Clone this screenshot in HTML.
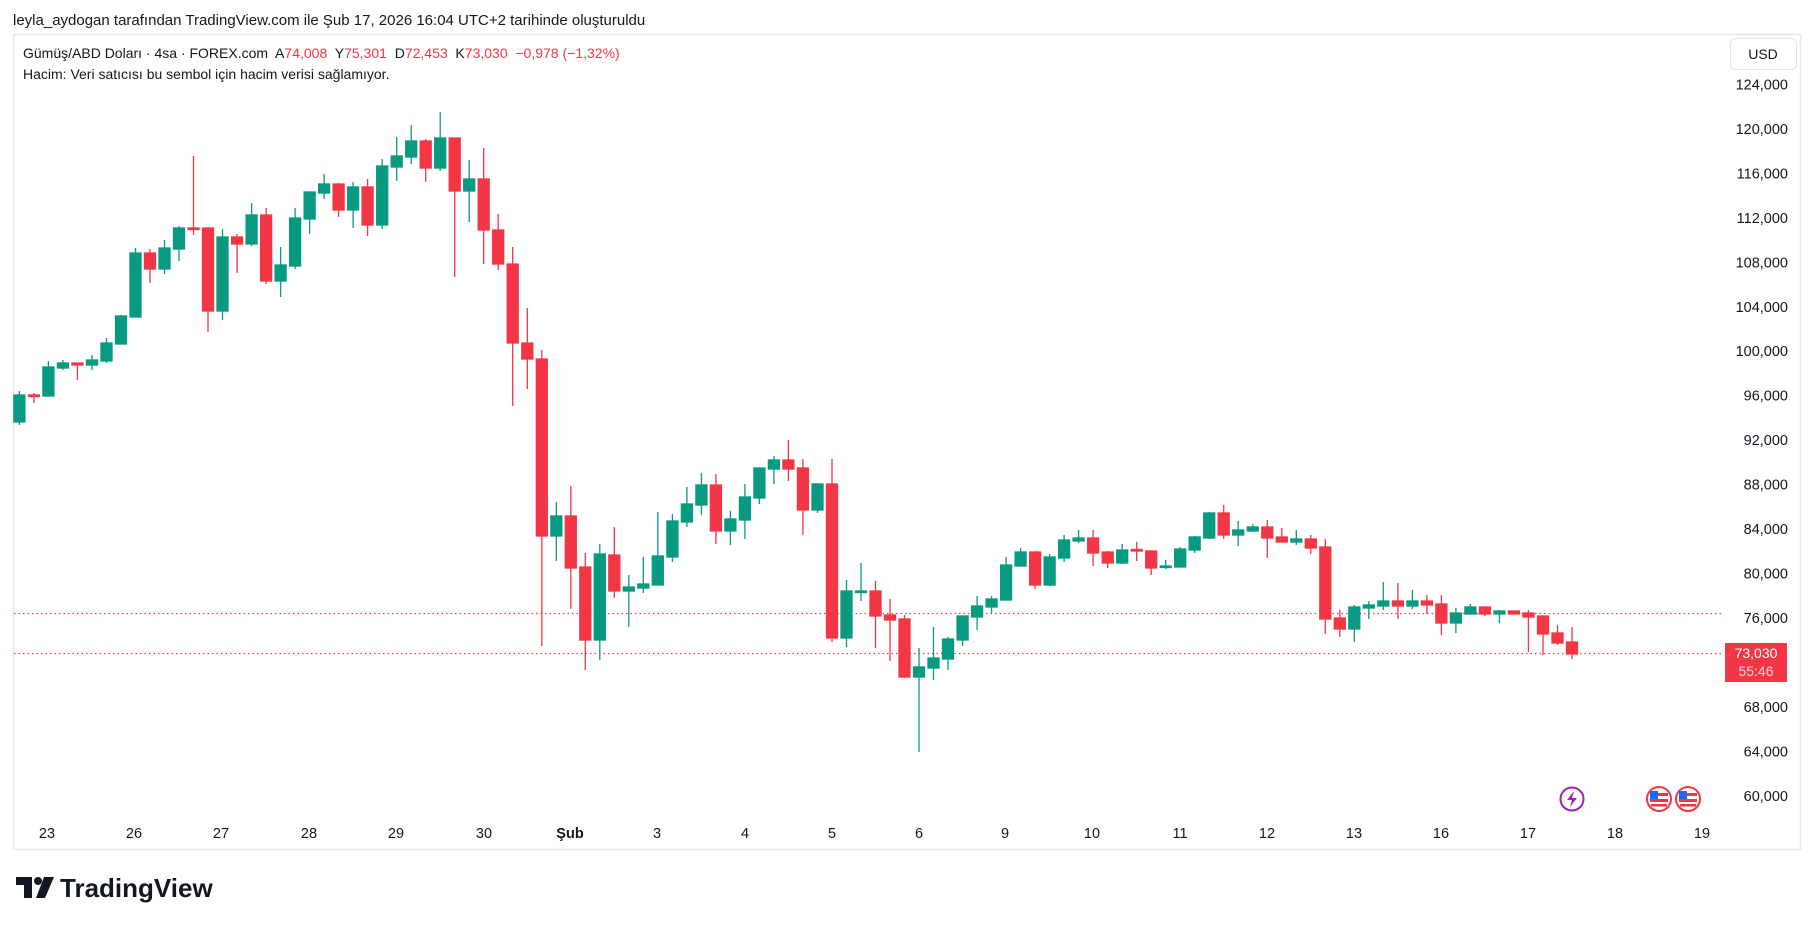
<!DOCTYPE html>
<html><head><meta charset="utf-8"><style>
html,body{margin:0;padding:0;background:#fff;}
svg{display:block;font-family:"Liberation Sans",sans-serif;}
.pre{white-space:pre;}
</style></head><body>
<svg width="1814" height="926" viewBox="0 0 1814 926" xmlns="http://www.w3.org/2000/svg">
<rect width="1814" height="926" fill="#fff"/>
<text x="13" y="25" font-size="15" fill="#131722">leyla_aydogan tarafından TradingView.com ile Şub 17, 2026 16:04 UTC+2 tarihinde oluşturuldu</text>
<rect x="13.5" y="34.5" width="1787" height="815" fill="none" stroke="#e6e8ee" stroke-width="1.5"/>
<text class="pre" x="23" y="58" font-size="14" fill="#131722">Gümüş/ABD Doları · 4sa · FOREX.com  A<tspan fill="#f23645">74,008</tspan>  Y<tspan fill="#f23645">75,301</tspan>  D<tspan fill="#f23645">72,453</tspan>  K<tspan fill="#f23645">73,030  −0,978 (−1,32%)</tspan></text>
<text x="23" y="79" font-size="14" fill="#131722">Hacim: Veri satıcısı bu sembol için hacim verisi sağlamıyor.</text>
<rect x="1730.5" y="38.5" width="66" height="31" rx="5" fill="#fff" stroke="#e0e3eb"/>
<text x="1763" y="59" font-size="14" fill="#131722" text-anchor="middle">USD</text>
<g font-size="14.5" fill="#131722" text-anchor="end">
<text x="1788" y="89.5">124,000</text><text x="1788" y="134">120,000</text><text x="1788" y="178.5">116,000</text><text x="1788" y="223">112,000</text><text x="1788" y="267.5">108,000</text><text x="1788" y="312">104,000</text><text x="1788" y="356">100,000</text><text x="1788" y="400.5">96,000</text><text x="1788" y="445">92,000</text><text x="1788" y="489.5">88,000</text><text x="1788" y="534">84,000</text><text x="1788" y="578.5">80,000</text><text x="1788" y="623">76,000</text><text x="1788" y="712">68,000</text><text x="1788" y="756.5">64,000</text><text x="1788" y="801">60,000</text>
</g>
<g font-size="14.5" fill="#131722" text-anchor="middle">
<text x="47" y="838">23</text><text x="134" y="838">26</text><text x="221" y="838">27</text><text x="309" y="838">28</text><text x="396" y="838">29</text><text x="484" y="838">30</text><text x="570" y="838" font-weight="bold">Şub</text><text x="657" y="838">3</text><text x="745" y="838">4</text><text x="832" y="838">5</text><text x="919" y="838">6</text><text x="1005" y="838">9</text><text x="1092" y="838">10</text><text x="1180" y="838">11</text><text x="1267" y="838">12</text><text x="1354" y="838">13</text><text x="1441" y="838">16</text><text x="1528" y="838">17</text><text x="1615" y="838">18</text><text x="1702" y="838">19</text>
</g>
<line x1="14" y1="613.5" x2="1724" y2="613.5" stroke="#f23645" stroke-width="1.2" stroke-dasharray="1.5,3"/>
<line x1="14" y1="653.5" x2="1724" y2="653.5" stroke="#f23645" stroke-width="1.2" stroke-dasharray="1.5,3"/>
<rect x="1725" y="643" width="62" height="39" fill="#f23645"/>
<text x="1756" y="658" font-size="14" fill="#fff" text-anchor="middle">73,030</text>
<text x="1756" y="676" font-size="14" fill="#ffd6da" text-anchor="middle">55:46</text>

<g stroke="#089981" stroke-width="1.3" fill="#089981">
<line x1="19.4" y1="391" x2="19.4" y2="425"/><rect x="13.9" y="395" width="11" height="27"/>
<line x1="48.4" y1="361" x2="48.4" y2="396"/><rect x="42.9" y="367" width="11" height="29"/>
<line x1="62.9" y1="360" x2="62.9" y2="370"/><rect x="57.4" y="363" width="11" height="5"/>
<line x1="92" y1="355" x2="92" y2="370"/><rect x="86.5" y="360" width="11" height="5"/>
<line x1="106.5" y1="338" x2="106.5" y2="363"/><rect x="101" y="343" width="11" height="18"/>
<line x1="121" y1="315" x2="121" y2="344"/><rect x="115.5" y="316" width="11" height="28"/>
<line x1="135.5" y1="248" x2="135.5" y2="317"/><rect x="130" y="253" width="11" height="64"/>
<line x1="164.5" y1="240" x2="164.5" y2="274"/><rect x="159" y="248" width="11" height="21"/>
<line x1="179" y1="226" x2="179" y2="261"/><rect x="173.5" y="228" width="11" height="21"/>
<line x1="222.5" y1="229" x2="222.5" y2="320"/><rect x="217" y="237" width="11" height="74"/>
<line x1="251.6" y1="203" x2="251.6" y2="246"/><rect x="246.1" y="215" width="11" height="29"/>
<line x1="280.6" y1="247" x2="280.6" y2="297"/><rect x="275.1" y="265" width="11" height="16"/>
<line x1="295.1" y1="208" x2="295.1" y2="269"/><rect x="289.6" y="218" width="11" height="48"/>
<line x1="309.6" y1="192" x2="309.6" y2="234"/><rect x="304.1" y="192" width="11" height="27"/>
<line x1="324.1" y1="174" x2="324.1" y2="199"/><rect x="318.6" y="184" width="11" height="9"/>
<line x1="353.1" y1="182" x2="353.1" y2="228"/><rect x="347.6" y="187" width="11" height="23"/>
<line x1="382.2" y1="159" x2="382.2" y2="229"/><rect x="376.7" y="166" width="11" height="59"/>
<line x1="396.7" y1="137" x2="396.7" y2="181"/><rect x="391.2" y="156" width="11" height="11"/>
<line x1="411.2" y1="125" x2="411.2" y2="164"/><rect x="405.7" y="141" width="11" height="16"/>
<line x1="440.2" y1="112" x2="440.2" y2="171"/><rect x="434.7" y="138" width="11" height="30"/>
<line x1="469.2" y1="160" x2="469.2" y2="222"/><rect x="463.7" y="179" width="11" height="12"/>
<line x1="556.3" y1="502" x2="556.3" y2="561"/><rect x="550.8" y="516" width="11" height="20"/>
<line x1="599.8" y1="544" x2="599.8" y2="660"/><rect x="594.3" y="554" width="11" height="86"/>
<line x1="628.8" y1="575" x2="628.8" y2="627"/><rect x="623.3" y="587" width="11" height="4"/>
<line x1="643.3" y1="557" x2="643.3" y2="593"/><rect x="637.8" y="584" width="11" height="4"/>
<line x1="657.8" y1="512" x2="657.8" y2="585"/><rect x="652.3" y="556" width="11" height="29"/>
<line x1="672.4" y1="514" x2="672.4" y2="562"/><rect x="666.9" y="521" width="11" height="36"/>
<line x1="686.9" y1="487" x2="686.9" y2="527"/><rect x="681.4" y="504" width="11" height="18"/>
<line x1="701.4" y1="473" x2="701.4" y2="515"/><rect x="695.9" y="485" width="11" height="20"/>
<line x1="730.4" y1="511" x2="730.4" y2="545"/><rect x="724.9" y="519" width="11" height="12"/>
<line x1="744.9" y1="484" x2="744.9" y2="539"/><rect x="739.4" y="497" width="11" height="23"/>
<line x1="759.4" y1="468" x2="759.4" y2="504"/><rect x="753.9" y="468" width="11" height="30"/>
<line x1="773.9" y1="456" x2="773.9" y2="484"/><rect x="768.4" y="460" width="11" height="9"/>
<line x1="817.5" y1="483" x2="817.5" y2="513"/><rect x="812" y="484" width="11" height="26"/>
<line x1="846.5" y1="580" x2="846.5" y2="647"/><rect x="841" y="591" width="11" height="47"/>
<line x1="861" y1="563" x2="861" y2="601"/><rect x="855.5" y="591" width="11" height="1.5"/>
<line x1="919" y1="648" x2="919" y2="752"/><rect x="913.5" y="667" width="11" height="10"/>
<line x1="933.5" y1="627" x2="933.5" y2="680"/><rect x="928" y="658" width="11" height="10"/>
<line x1="948" y1="637" x2="948" y2="670"/><rect x="942.5" y="639" width="11" height="20"/>
<line x1="962.6" y1="616" x2="962.6" y2="646"/><rect x="957.1" y="616" width="11" height="24"/>
<line x1="977.1" y1="596" x2="977.1" y2="630"/><rect x="971.6" y="606" width="11" height="11"/>
<line x1="991.6" y1="596" x2="991.6" y2="613"/><rect x="986.1" y="599" width="11" height="8"/>
<line x1="1006.1" y1="557" x2="1006.1" y2="600"/><rect x="1000.6" y="565" width="11" height="35"/>
<line x1="1020.6" y1="548" x2="1020.6" y2="566"/><rect x="1015.1" y="552" width="11" height="14"/>
<line x1="1049.6" y1="554" x2="1049.6" y2="586"/><rect x="1044.1" y="557" width="11" height="28"/>
<line x1="1064.1" y1="535" x2="1064.1" y2="562"/><rect x="1058.6" y="540" width="11" height="18"/>
<line x1="1078.6" y1="530" x2="1078.6" y2="543"/><rect x="1073.1" y="538" width="11" height="3"/>
<line x1="1122.2" y1="544" x2="1122.2" y2="564"/><rect x="1116.7" y="550" width="11" height="13"/>
<line x1="1165.7" y1="560" x2="1165.7" y2="569"/><rect x="1160.2" y="566" width="11" height="1.5"/>
<line x1="1180.2" y1="547" x2="1180.2" y2="567"/><rect x="1174.7" y="549" width="11" height="18"/>
<line x1="1194.7" y1="536" x2="1194.7" y2="553"/><rect x="1189.2" y="537" width="11" height="13"/>
<line x1="1209.2" y1="512" x2="1209.2" y2="539"/><rect x="1203.7" y="513" width="11" height="25"/>
<line x1="1238.2" y1="521" x2="1238.2" y2="546"/><rect x="1232.7" y="530" width="11" height="5"/>
<line x1="1252.8" y1="524" x2="1252.8" y2="532"/><rect x="1247.3" y="527" width="11" height="4"/>
<line x1="1296.3" y1="530" x2="1296.3" y2="545"/><rect x="1290.8" y="539" width="11" height="3"/>
<line x1="1354.3" y1="605" x2="1354.3" y2="642"/><rect x="1348.8" y="607" width="11" height="22"/>
<line x1="1368.8" y1="601" x2="1368.8" y2="619"/><rect x="1363.3" y="605" width="11" height="3"/>
<line x1="1383.3" y1="582" x2="1383.3" y2="610"/><rect x="1377.8" y="601" width="11" height="5"/>
<line x1="1412.4" y1="590" x2="1412.4" y2="609"/><rect x="1406.9" y="601" width="11" height="5"/>
<line x1="1455.9" y1="608" x2="1455.9" y2="633"/><rect x="1450.4" y="613" width="11" height="10"/>
<line x1="1470.4" y1="604" x2="1470.4" y2="614"/><rect x="1464.9" y="607" width="11" height="7"/>
<line x1="1499.4" y1="610" x2="1499.4" y2="623"/><rect x="1493.9" y="611" width="11" height="3"/>
</g>
<g stroke="#f23645" stroke-width="1.3" fill="#f23645">
<line x1="33.9" y1="393" x2="33.9" y2="403"/><rect x="28.4" y="395" width="11" height="1.5"/>
<line x1="77.4" y1="363" x2="77.4" y2="380"/><rect x="71.9" y="363" width="11" height="2"/>
<line x1="150" y1="249" x2="150" y2="283"/><rect x="144.5" y="253" width="11" height="16"/>
<line x1="193.5" y1="156" x2="193.5" y2="235"/><rect x="188" y="228" width="11" height="1.5"/>
<line x1="208" y1="228" x2="208" y2="332"/><rect x="202.5" y="228" width="11" height="83"/>
<line x1="237.1" y1="234" x2="237.1" y2="273"/><rect x="231.6" y="237" width="11" height="7"/>
<line x1="266.1" y1="208" x2="266.1" y2="284"/><rect x="260.6" y="215" width="11" height="66"/>
<line x1="338.6" y1="183" x2="338.6" y2="217"/><rect x="333.1" y="184" width="11" height="26"/>
<line x1="367.6" y1="179" x2="367.6" y2="236"/><rect x="362.1" y="187" width="11" height="38"/>
<line x1="425.7" y1="139" x2="425.7" y2="182"/><rect x="420.2" y="141" width="11" height="27"/>
<line x1="454.7" y1="138" x2="454.7" y2="277"/><rect x="449.2" y="138" width="11" height="53"/>
<line x1="483.7" y1="148" x2="483.7" y2="264"/><rect x="478.2" y="179" width="11" height="51"/>
<line x1="498.2" y1="214" x2="498.2" y2="270"/><rect x="492.7" y="230" width="11" height="34"/>
<line x1="512.7" y1="247" x2="512.7" y2="406"/><rect x="507.2" y="264" width="11" height="79"/>
<line x1="527.3" y1="308" x2="527.3" y2="389"/><rect x="521.8" y="343" width="11" height="16"/>
<line x1="541.8" y1="350" x2="541.8" y2="646"/><rect x="536.3" y="359" width="11" height="177"/>
<line x1="570.8" y1="486" x2="570.8" y2="609"/><rect x="565.3" y="516" width="11" height="52"/>
<line x1="585.3" y1="553" x2="585.3" y2="670"/><rect x="579.8" y="567" width="11" height="73"/>
<line x1="614.3" y1="527" x2="614.3" y2="598"/><rect x="608.8" y="555" width="11" height="36"/>
<line x1="715.9" y1="474" x2="715.9" y2="544"/><rect x="710.4" y="485" width="11" height="46"/>
<line x1="788.4" y1="440" x2="788.4" y2="481"/><rect x="782.9" y="460" width="11" height="9"/>
<line x1="802.9" y1="459" x2="802.9" y2="535"/><rect x="797.4" y="468" width="11" height="42"/>
<line x1="832" y1="459" x2="832" y2="642"/><rect x="826.5" y="484" width="11" height="154"/>
<line x1="875.5" y1="581" x2="875.5" y2="648"/><rect x="870" y="591" width="11" height="25"/>
<line x1="890" y1="599" x2="890" y2="661"/><rect x="884.5" y="615" width="11" height="5"/>
<line x1="904.5" y1="615" x2="904.5" y2="678"/><rect x="899" y="619" width="11" height="58"/>
<line x1="1035.1" y1="551" x2="1035.1" y2="589"/><rect x="1029.6" y="552" width="11" height="33"/>
<line x1="1093.1" y1="530" x2="1093.1" y2="566"/><rect x="1087.6" y="538" width="11" height="15"/>
<line x1="1107.7" y1="551" x2="1107.7" y2="568"/><rect x="1102.2" y="552" width="11" height="11"/>
<line x1="1136.7" y1="542" x2="1136.7" y2="561"/><rect x="1131.2" y="549.5" width="11" height="1.5"/>
<line x1="1151.2" y1="550" x2="1151.2" y2="575"/><rect x="1145.7" y="551" width="11" height="17"/>
<line x1="1223.7" y1="505" x2="1223.7" y2="539"/><rect x="1218.2" y="513" width="11" height="22"/>
<line x1="1267.3" y1="520" x2="1267.3" y2="558"/><rect x="1261.8" y="527" width="11" height="11"/>
<line x1="1281.8" y1="528" x2="1281.8" y2="542"/><rect x="1276.3" y="537" width="11" height="5"/>
<line x1="1310.8" y1="535" x2="1310.8" y2="554"/><rect x="1305.3" y="539" width="11" height="9"/>
<line x1="1325.3" y1="539" x2="1325.3" y2="634"/><rect x="1319.8" y="547" width="11" height="72"/>
<line x1="1339.8" y1="610" x2="1339.8" y2="637"/><rect x="1334.3" y="618" width="11" height="11"/>
<line x1="1397.9" y1="583" x2="1397.9" y2="619"/><rect x="1392.4" y="601" width="11" height="5"/>
<line x1="1426.9" y1="595" x2="1426.9" y2="614"/><rect x="1421.4" y="601" width="11" height="4"/>
<line x1="1441.4" y1="595" x2="1441.4" y2="635"/><rect x="1435.9" y="604" width="11" height="19"/>
<line x1="1484.9" y1="607" x2="1484.9" y2="616"/><rect x="1479.4" y="607" width="11" height="7"/>
<line x1="1513.9" y1="611" x2="1513.9" y2="614"/><rect x="1508.4" y="611" width="11" height="3"/>
<line x1="1528.4" y1="610" x2="1528.4" y2="652"/><rect x="1522.9" y="613" width="11" height="4"/>
<line x1="1543" y1="616" x2="1543" y2="655"/><rect x="1537.5" y="616" width="11" height="18"/>
<line x1="1557.5" y1="625" x2="1557.5" y2="645"/><rect x="1552" y="633" width="11" height="10"/>
<line x1="1572" y1="627" x2="1572" y2="659"/><rect x="1566.5" y="642" width="11" height="12"/>
</g>

<circle cx="1572" cy="799" r="11.5" fill="#fff" stroke="#9c27b0" stroke-width="2"/>
<path d="M1574 791 L1567 800 L1572 800 L1570 807 L1577 798 L1572 798 Z" fill="#9c27b0"/>
<g>
<circle cx="1659" cy="799" r="12" fill="#fff" stroke="#f23645" stroke-width="2"/>
<rect x="1650" y="793" width="18" height="3" fill="#f23645"/><rect x="1650" y="799" width="18" height="3" fill="#f23645"/><rect x="1651" y="804" width="16" height="2.5" fill="#f23645"/>
<rect x="1650" y="791" width="8" height="8" fill="#2962ff"/>
<circle cx="1688" cy="799" r="12" fill="#fff" stroke="#f23645" stroke-width="2"/>
<rect x="1679" y="793" width="18" height="3" fill="#f23645"/><rect x="1679" y="799" width="18" height="3" fill="#f23645"/><rect x="1680" y="804" width="16" height="2.5" fill="#f23645"/>
<rect x="1679" y="791" width="8" height="8" fill="#2962ff"/>
</g>

<g fill="#131722">
<path d="M16 877 H32 V898 H24 V885 H16 Z"/>
<circle cx="38" cy="881" r="4"/>
<path d="M44 877 H54 L45 898 H36 Z"/>
</g>
<text x="60" y="897" font-size="26" font-weight="bold" fill="#131722">TradingView</text>
</svg>
</body></html>
